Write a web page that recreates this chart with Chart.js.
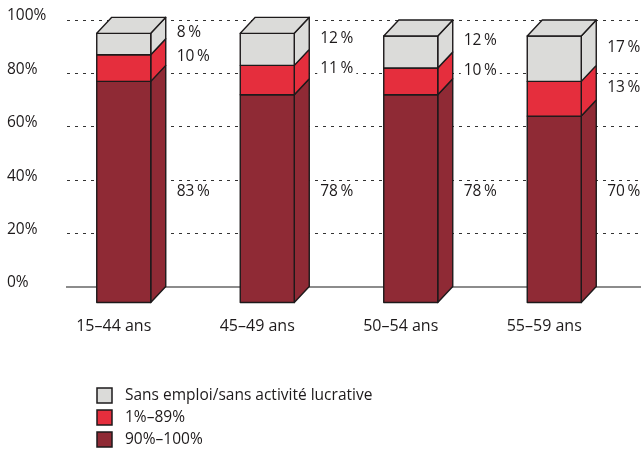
<!DOCTYPE html>
<html>
<head>
<meta charset="utf-8">
<script src="https://cdn.jsdelivr.net/npm/chart.js@4"></script>
<style>
  html, body { margin: 0; padding: 0; background: #fff; }
</style>
</head>
<body>
<canvas id="myChart" width="641" height="455"></canvas>
<script>
const categories = ['15–44 ans', '45–49 ans', '50–54 ans', '55–59 ans'];
const fullTime = [83, 78, 78, 70]; // 90%–100%
const partTime = [10, 11, 10, 13]; // 1%–89%
const noJob = [8, 12, 12, 17];     // sans emploi
const seriesNames = ['90%–100%', '1%–89%', 'Sans emploi/sans activité lucrative'];
const seriesColors = ['#8f2a35', '#e52e3d', '#dbdbd9'];

const DX = 15, DY = 16;
const FAMILY = 'Open Sans';
const FONT = '15.5px "Open Sans"';
const INK = '#1d1a1b';

// draws the stacked bars as boxes: front face shifted down-left of the grid plane
const bars3d = {
  id: 'bars3d',
  beforeDatasetsDraw(chart) {
    const ctx = chart.ctx;
    const metas = chart.data.datasets.map((d, i) => chart.getDatasetMeta(i));
    ctx.save();
    ctx.strokeStyle = INK;
    ctx.lineWidth = 1.4;
    ctx.lineJoin = 'round';
    for (let j = 0; j < categories.length; j++) {
      metas.forEach((meta, i) => {
        const el = meta.data[j];
        const { x, y, base, width } = el.getProps(['x', 'y', 'base', 'width'], true);
        const l = x - width / 2, r = x + width / 2;
        ctx.fillStyle = seriesColors[i];
        // side
        ctx.beginPath();
        ctx.moveTo(r - DX, y + DY);
        ctx.lineTo(r, y);
        ctx.lineTo(r, base);
        ctx.lineTo(r - DX, base + DY);
        ctx.closePath();
        ctx.fill();
        ctx.stroke();
        // front
        ctx.beginPath();
        ctx.rect(l - DX, y + DY, width, base - y);
        ctx.fill();
        ctx.stroke();
        // top
        if (i === metas.length - 1) {
          ctx.beginPath();
          ctx.moveTo(l - DX, y + DY);
          ctx.lineTo(l, y);
          ctx.lineTo(r, y);
          ctx.lineTo(r - DX, y + DY);
          ctx.closePath();
          ctx.fill();
          ctx.stroke();
        }
      });
    }
    ctx.restore();
    return false;
  },
  afterDraw(chart) {
    const ctx = chart.ctx;
    const yScale = chart.scales.y;
    ctx.save();
    ctx.font = FONT;
    ctx.textBaseline = 'middle';
    ctx.textAlign = 'left';
    chart.data.datasets.forEach((ds, i) => {
      const meta = chart.getDatasetMeta(i);
      meta.data.forEach((el, j) => {
        const { x, y, base, width } = el.getProps(['x', 'y', 'base', 'width'], true);
        const tx = x + width / 2 + 11;
        let ty = (y + base) / 2 + 4;
        if (i === 0) ty = yScale.getPixelForValue(36);
        const txt = ds.data[j] + '\u2009%';
        const w = ctx.measureText(txt).width;
        ctx.fillStyle = '#fff';
        ctx.fillRect(tx - 3, ty - 9, w + 6, 18);
        ctx.fillStyle = INK;
        ctx.fillText(txt, tx, ty + 1);
      });
    });

    // legend, top entry = top of the stack
    const order = [2, 1, 0];
    order.forEach((i, k) => {
      const yy = 388 + k * 22;
      ctx.fillStyle = seriesColors[i];
      ctx.fillRect(97, yy, 15, 15);
      ctx.strokeStyle = INK;
      ctx.lineWidth = 1.5;
      ctx.strokeRect(97, yy, 15, 15);
      ctx.fillStyle = INK;
      ctx.fillText(seriesNames[i], 125, yy + 8);
    });
    ctx.restore();
  }
};

new Chart(document.getElementById('myChart'), {
  type: 'bar',
  data: {
    labels: categories,
    datasets: [
      { label: seriesNames[0], data: fullTime, backgroundColor: seriesColors[0] },
      { label: seriesNames[1], data: partTime, backgroundColor: seriesColors[1] },
      { label: seriesNames[2], data: noJob, backgroundColor: seriesColors[2] },
    ],
  },
  options: {
    responsive: false,
    animation: false,
    events: [],
    layout: { padding: { left: 7, right: 0, top: 20, bottom: 120 } },
    datasets: { bar: { barThickness: 54 } },
    plugins: { legend: { display: false }, tooltip: { enabled: false } },
    scales: {
      x: {
        stacked: true,
        grid: { color: 'rgba(0,0,0,0)', drawTicks: false },
        border: { display: true, color: '#8c8c8c', width: 2 },
        ticks: { font: { family: FAMILY, size: 16 }, color: INK, padding: 30, labelOffset: -25, maxRotation: 0 },
        afterFit(scale) { scale.height = 48; },
      },
      y: {
        stacked: true,
        min: 0,
        max: 100,
        grid: {
          color: c => (c.tick && c.tick.value === 0 ? 'rgba(0,0,0,0)' : '#333'),
          lineWidth: 1,
          drawTicks: false,
        },
        border: { display: false, dash: [3, 5] },
        ticks: {
          stepSize: 20,
          crossAlign: 'far',
          padding: 0,
          labelOffset: -4,
          font: { family: FAMILY, size: 15.5 },
          color: INK,
          callback: v => v + '%',
        },
        afterFit(scale) { scale.width = 60; },
      },
    },
  },
  plugins: [bars3d],
});
</script>
</body>
</html>
